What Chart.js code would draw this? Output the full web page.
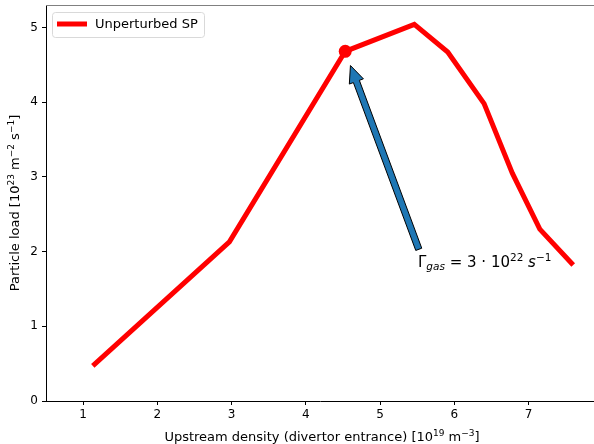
<!DOCTYPE html>
<html>
<head>
<meta charset="utf-8">
<script src="https://cdn.jsdelivr.net/npm/chart.js@4.4.1/dist/chart.umd.min.js"></script>
<style>
html,body{margin:0;padding:0;background:#fff;}
canvas{display:block;}
</style>
</head>
<body>
<canvas id="c" width="594" height="444"></canvas>
<script>
// ---- data ----
const density = [1.13, 2.97, 4.53, 5.46, 5.91, 6.40, 6.78, 7.15, 7.60];
const particleLoad = [0.47, 2.13, 4.68, 5.04, 4.67, 3.98, 3.05, 2.30, 1.82];
const markerPoint = [4.53, 4.68];
const arrowTail = [5.52, 2.03];
const arrowTip = [4.60, 4.49];
const annotationPos = [5.51, 1.79];
const xTicks = [1, 2, 3, 4, 5, 6, 7];
const yTicks = [0, 1, 2, 3, 4, 5];
const seriesLabel = 'Unperturbed SP';

const FONT = '"DejaVu Sans", sans-serif';

function drawRich(ctx, segs, x, y, align) {
  let total = 0;
  const widths = segs.map(s => {
    ctx.font = (s[3] ? 'italic ' : '') + s[1] + 'px ' + FONT;
    const w = ctx.measureText(s[0]).width;
    total += w;
    return w;
  });
  let cx = align === 'center' ? x - total / 2 : x;
  segs.forEach((s, i) => {
    ctx.font = (s[3] ? 'italic ' : '') + s[1] + 'px ' + FONT;
    ctx.fillText(s[0], cx, y + s[2]);
    cx += widths[i];
  });
}

function zeroPad(s) {
  s.paddingTop = 0; s.paddingBottom = 0; s.paddingLeft = 0; s.paddingRight = 0;
}

const overlay = {
  id: 'overlay',
  afterDraw(chart) {
    const ctx = chart.ctx;
    const xs = chart.scales.x, ys = chart.scales.y;
    const ca = chart.chartArea;
    ctx.save();
    // top spine
    ctx.strokeStyle = '#808080';
    ctx.lineWidth = 1;
    ctx.beginPath();
    ctx.moveTo(ca.left, ca.top + 0.5);
    ctx.lineTo(594, ca.top + 0.5);
    ctx.stroke();

    // arrow
    const tx = xs.getPixelForValue(arrowTail[0]), ty = ys.getPixelForValue(arrowTail[1]);
    const hx = xs.getPixelForValue(arrowTip[0]), hy = ys.getPixelForValue(arrowTip[1]);
    const dx = hx - tx, dy = hy - ty, L = Math.hypot(dx, dy);
    const ux = dx / L, uy = dy / L, nx = -uy, ny = ux;
    const sw = 3.2, hw = 7.5, hl = 17;
    const bx = hx - ux * hl, by = hy - uy * hl;
    ctx.beginPath();
    ctx.moveTo(tx + nx * sw, ty + ny * sw);
    ctx.lineTo(bx + nx * sw, by + ny * sw);
    ctx.lineTo(bx + nx * hw, by + ny * hw);
    ctx.lineTo(hx, hy);
    ctx.lineTo(bx - nx * hw, by - ny * hw);
    ctx.lineTo(bx - nx * sw, by - ny * sw);
    ctx.lineTo(tx - nx * sw, ty - ny * sw);
    ctx.closePath();
    ctx.fillStyle = '#1f77b4';
    ctx.fill();
    ctx.strokeStyle = '#000';
    ctx.lineWidth = 1;
    ctx.stroke();

    // annotation text
    ctx.fillStyle = '#000';
    ctx.textBaseline = 'alphabetic';
    ctx.textAlign = 'left';
    const ax = xs.getPixelForValue(annotationPos[0]), ay = ys.getPixelForValue(annotationPos[1]);
    drawRich(ctx, [
      ['\u0393', 15, 0, false],
      ['gas', 10.5, 3, true],
      [' = 3 \u00b7 10', 15, 0, false],
      ['22', 10.5, -6.5, false],
      [' ', 15, 0, false],
      ['s', 15, 0, true],
      ['\u22121', 10.5, -6.5, false]
    ], ax, ay, 'left');

    // legend
    const lx = ca.left + 6, ly = ca.top + 7, lw = 152, lh = 25;
    ctx.beginPath();
    ctx.roundRect(lx + 0.5, ly + 0.5, lw, lh, 3);
    ctx.fillStyle = 'rgba(255,255,255,0.8)';
    ctx.fill();
    ctx.strokeStyle = '#d9d9d9';
    ctx.lineWidth = 1;
    ctx.stroke();
    ctx.beginPath();
    ctx.moveTo(lx + 5, ly + 12);
    ctx.lineTo(lx + 35, ly + 12);
    ctx.strokeStyle = '#ff0000';
    ctx.lineWidth = 5;
    ctx.stroke();
    ctx.fillStyle = '#000';
    ctx.font = '13px ' + FONT;
    ctx.textBaseline = 'middle';
    ctx.fillText(seriesLabel, lx + 43, ly + 13);

    // axis titles
    ctx.textBaseline = 'alphabetic';
    drawRich(ctx, [
      ['Upstream density (divertor entrance) [10', 13, 0, false],
      ['19', 9, -5.5, false],
      [' m', 13, 0, false],
      ['\u22123', 9, -5.5, false],
      [']', 13, 0, false]
    ], 322, 441, 'center');

    ctx.translate(19, (ca.top + ca.bottom) / 2);
    ctx.rotate(-Math.PI / 2);
    drawRich(ctx, [
      ['Particle load [10', 13, 0, false],
      ['23', 9, -5.5, false],
      [' m', 13, 0, false],
      ['\u22122', 9, -5.5, false],
      [' s', 13, 0, false],
      ['\u22121', 9, -5.5, false],
      [']', 13, 0, false]
    ], 0, 0, 'center');
    ctx.restore();
  }
};

new Chart(document.getElementById('c'), {
  type: 'line',
  data: {
    datasets: [
      {
        label: seriesLabel,
        data: density.map((x, i) => ({x: x, y: particleLoad[i]})),
        borderColor: '#ff0000',
        borderWidth: 5,
        pointRadius: 0,
        tension: 0,
        fill: false
      },
      {
        label: 'marker',
        type: 'scatter',
        data: [{x: markerPoint[0], y: markerPoint[1]}],
        backgroundColor: '#ff0000',
        borderColor: '#ff0000',
        pointRadius: 6.5,
        borderWidth: 0
      }
    ]
  },
  options: {
    responsive: false,
    animation: false,
    layout: {autoPadding: false, padding: {top: 5, right: -2, left: 0, bottom: 0}},
    plugins: {legend: {display: false}, tooltip: {enabled: false}},
    scales: {
      x: {
        type: 'linear',
        min: 0.5,
        max: 7.88,
        afterBuildTicks: s => { s.ticks = xTicks.map(v => ({value: v})); },
        afterFit: s => { s.height = 43; zeroPad(s); },
        grid: {drawOnChartArea: false, drawTicks: true, tickLength: 4, tickColor: '#000'},
        border: {display: true, color: '#000', width: 1},
        ticks: {color: '#000', font: {family: FONT, size: 12}, padding: 3, maxRotation: 0, callback: v => String(v)}
      },
      y: {
        min: 0,
        max: 5.3,
        afterBuildTicks: s => { s.ticks = yTicks.map(v => ({value: v})); },
        afterFit: s => { s.width = 46; zeroPad(s); },
        grid: {drawOnChartArea: false, drawTicks: true, tickLength: 4, tickColor: '#000'},
        border: {display: true, color: '#000', width: 1},
        ticks: {color: '#000', font: {family: FONT, size: 12}, padding: 4, callback: v => String(v)}
      }
    }
  },
  plugins: [overlay]
});
</script>
</body>
</html>
